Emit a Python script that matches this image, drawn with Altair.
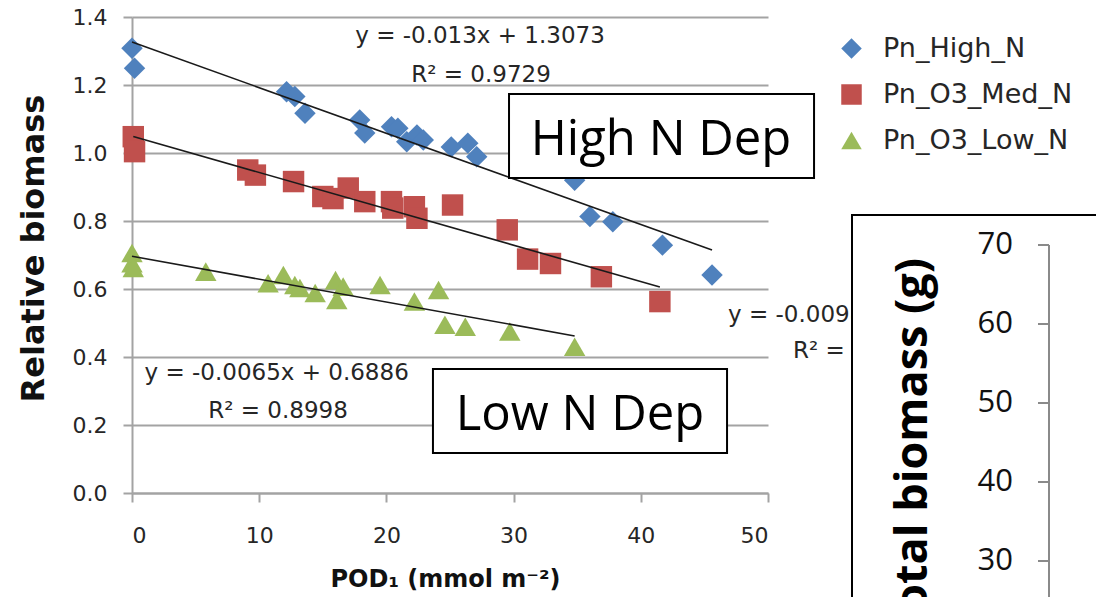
import altair as alt
import pandas as pd

# ---------------- data ----------------
series_names = ["Pn_High_N", "Pn_O3_Med_N", "Pn_O3_Low_N"]
series_colors = ["#4F81BD", "#C0504D", "#9BBB59"]
series_shapes = ["diamond", "square", "triangle-up"]

high_x = [0.0, 0.2, 12.15, 12.8, 13.6, 17.9, 18.3, 20.4, 20.9, 21.6, 22.4, 22.9, 25.1, 26.4, 27.1, 34.8, 36.0, 37.8, 41.7, 45.6]
high_y = [1.308, 1.249, 1.180, 1.166, 1.117, 1.097, 1.059, 1.077, 1.073, 1.033, 1.053, 1.038, 1.018, 1.029, 0.989, 0.920, 0.813, 0.798, 0.729, 0.641]

med_x = [0.1, 0.2, 9.1, 9.7, 12.7, 15.0, 15.8, 17.0, 18.3, 20.4, 20.5, 22.2, 22.4, 25.2, 29.5, 31.1, 32.9, 36.9, 41.5]
med_y = [1.048, 1.004, 0.950, 0.935, 0.916, 0.872, 0.866, 0.897, 0.857, 0.857, 0.838, 0.842, 0.808, 0.847, 0.774, 0.688, 0.675, 0.636, 0.563]

low_x = [0.0, 0.0, 0.1, 5.8, 10.7, 11.9, 12.8, 13.2, 14.4, 16.0, 16.6, 16.1, 19.5, 22.2, 24.1, 24.6, 26.2, 29.7, 34.8]
low_y = [0.706, 0.676, 0.662, 0.651, 0.617, 0.641, 0.612, 0.603, 0.588, 0.626, 0.607, 0.568, 0.612, 0.563, 0.597, 0.495, 0.489, 0.475, 0.430]

x_ticks = [0, 10, 20, 30, 40, 50]
y_ticks = [0.0, 0.2, 0.4, 0.6, 0.8, 1.0, 1.2, 1.4]

eq_high = ["y = -0.013x + 1.3073", "R\u00b2 = 0.9729"]
eq_med = ["y = -0.0098x + 1.0166", "R\u00b2 = 0.9374"]
eq_low = ["y = -0.0065x + 0.6886", "R\u00b2 = 0.8998"]
box_labels = ["High N Dep", "Low N Dep"]

inset_ticks = [70, 60, 50, 40, 30]
inset_title = "Total biomass (g)"
# the inset's own axis range, expressed against the main panel's height
inset_lo, inset_hi = 38.61, 98.86

# ---------------- tables ----------------
pts = pd.concat([
    pd.DataFrame({"x": high_x, "y": high_y, "series": series_names[0]}),
    pd.DataFrame({"x": med_x, "y": med_y, "series": series_names[1]}),
    pd.DataFrame({"x": low_x, "y": low_y, "series": series_names[2]}),
], ignore_index=True)

FONT = "DejaVu Sans"
GRID = "#a3a3a3"
TXT = "#262626"
W, H = 636, 476

xs = alt.Scale(domain=[0, 50], nice=False, zero=False)
ys = alt.Scale(domain=[0, 1.4], nice=False, zero=False)

x_axis = alt.Axis(values=x_ticks, grid=False, tickSize=9, tickWidth=2, tickColor=GRID,
                  domainColor=GRID, domainWidth=2, labelFont=FONT, labelFontSize=22,
                  labelColor=TXT, labelPadding=23,
                  title="POD\u2081 (mmol m\u207b\u00b2)", titleFont=FONT, titleFontSize=24,
                  titleFontWeight="bold", titleColor="#111111", titleX=313, titleY=86,
                  titleBaseline="middle", titleAlign="center")
y_axis = alt.Axis(values=y_ticks, format=".1f", grid=True, gridColor=GRID, gridWidth=2,
                  tickSize=9, tickWidth=2, tickColor=GRID, domainColor=GRID, domainWidth=2,
                  labelFont=FONT, labelFontSize=22, labelColor=TXT, labelPadding=16,
                  title="Relative biomass", titleFont=FONT, titleFontSize=32,
                  titleFontWeight="bold", titleColor="#111111", titleX=-99, titleY=231,
                  titleAngle=270, titleAlign="center", titleBaseline="middle")

legend = alt.Legend(title=None, orient="none", legendX=706, legendY=18, padding=0,
                    labelFont=FONT, labelFontSize=27, labelColor=TXT, labelLimit=0,
                    symbolSize=420, rowPadding=18, labelOffset=18, symbolStrokeWidth=0)

points = alt.Chart(pts).mark_point(filled=True, size=460, opacity=1).encode(
    x=alt.X("x:Q", scale=xs, axis=x_axis),
    y=alt.Y("y:Q", scale=ys, axis=y_axis),
    color=alt.Color("series:N", scale=alt.Scale(domain=series_names, range=series_colors),
                    legend=legend),
    shape=alt.Shape("series:N", scale=alt.Scale(domain=series_names, range=series_shapes),
                    legend=legend),
)

trend = alt.Chart(pts).transform_regression("x", "y", groupby=["series"]).mark_line(
    color="#1a1a1a", strokeWidth=1.6).encode(
    x=alt.X("x:Q"), y=alt.Y("y:Q"), detail="series:N")


def txt(s, xv, yv, align="center", size=23, font=FONT, color=TXT, weight="normal"):
    return alt.Chart(pd.DataFrame({"t": [s]})).mark_text(
        align=align, baseline="alphabetic", font=font, fontSize=size, color=color,
        fontWeight=weight).encode(x=alt.datum(xv), y=alt.datum(yv), text="t:N")


def box(x1, x2, y1, y2):
    return alt.Chart(pd.DataFrame({"a": [0]})).mark_rect(
        fill="white", stroke="black", strokeWidth=2).encode(
        x=alt.datum(x1), x2=alt.datum(x2), y=alt.datum(y1), y2=alt.datum(y2))


texts = [
    txt(eq_high[0], 27.36, 1.3235), txt(eq_high[1], 27.44, 1.2088),
    txt(eq_low[0], 11.37, 0.3324), txt(eq_low[1], 11.48, 0.2206),
    txt(eq_med[0], 46.86, 0.503, align="left"), txt(eq_med[1], 51.97, 0.397, align="left"),
]
boxes = [
    box(29.64, 53.62, 1.1735, 0.9265),
    txt(box_labels[0], 41.59, 0.994, size=49, font="Open Sans", color="#000000"),
    box(23.66, 46.78, 0.3647, 0.1176),
    txt(box_labels[1], 35.22, 0.185, size=49, font="Open Sans", color="#000000"),
]

# ---------------- inset (second chart peeking in) ----------------
ins = pd.DataFrame({"v": inset_ticks})
one = pd.DataFrame({"a": [0]})
to_main = f"(datum.v - {inset_lo}) / ({inset_hi} - {inset_lo}) * 1.4"

inset_box = alt.Chart(one).mark_rect(fill="white", stroke="black", strokeWidth=2).encode(
    x=alt.value(720), x2=alt.value(1100), y=alt.value(198), y2=alt.value(700))
inset_axis = alt.Chart(ins).transform_aggregate(v="max(v)").transform_calculate(
    ym=to_main).mark_rule(color="#8a8a8a", strokeWidth=2).encode(
    x=alt.value(917), y=alt.Y("ym:Q"), y2=alt.value(700))
inset_tick = alt.Chart(ins).transform_calculate(ym=to_main).mark_rule(
    color="#8a8a8a", strokeWidth=2).encode(
    x=alt.value(906), x2=alt.value(917), y=alt.Y("ym:Q"))
inset_lab = alt.Chart(ins).transform_calculate(ym=to_main).mark_text(
    align="right", baseline="middle", font="Open Sans", fontSize=31,
    color="#111111").encode(x=alt.value(881), y=alt.Y("ym:Q"), text="v:Q")
inset_ttl = alt.Chart(one).mark_text(angle=270, align="right", baseline="middle",
                                     font="Open Sans", fontSize=45, fontWeight="bold",
                                     color="#000000").encode(
    x=alt.value(781), y=alt.value(241), text=alt.value(inset_title))

chart = alt.layer(points, trend, *texts, *boxes,
                  inset_box, inset_axis, inset_tick, inset_lab, inset_ttl).properties(
    width=W, height=H,
    autosize=alt.AutoSizeParams(type="none"),
    padding={"left": 132, "top": 17, "right": 1096 - 132 - W, "bottom": 597 - 17 - H},
    background="white",
).configure_view(stroke=None)

chart.save("out.html", embed_options={"renderer": "svg", "actions": False})
